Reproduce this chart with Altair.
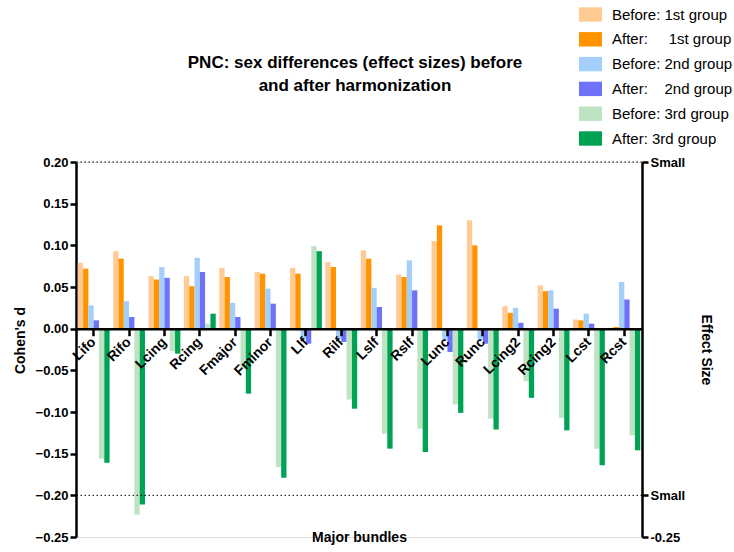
import altair as alt
import pandas as pd

bundles = ["Lifo", "Rifo", "Lcing", "Rcing", "Fmajor", "Fminor", "Llf", "Rilf",
           "Lslf", "Rslf", "Lunc", "Runc", "Lcing2", "Rcing2", "Lcst", "Rcst"]

series_names = ["Before: 1st group", "After:\u00a0\u00a0\u00a0\u00a0 1st group",
                "Before: 2nd group", "After:\u00a0\u00a0\u00a0 2nd group",
                "Before: 3rd group", "After: 3rd group"]
series_colors = ["#FFCA94", "#FF9400", "#A3CFFA", "#6E72F8", "#BEE3C3", "#00A353"]

before1 = [0.079, 0.093, 0.063, 0.063, 0.073, 0.068, 0.073, 0.080, 0.094, 0.065, 0.105, 0.130, 0.027, 0.052, 0.011, 0.001]
after1 = [0.072, 0.084, 0.059, 0.051, 0.062, 0.066, 0.066, 0.074, 0.084, 0.062, 0.124, 0.100, 0.019, 0.045, 0.010, 0.002]
before2 = [0.028, 0.033, 0.074, 0.085, 0.031, 0.048, -0.013, -0.012, 0.049, 0.082, -0.013, -0.013, 0.025, 0.046, 0.018, 0.056]
after2 = [0.010, 0.014, 0.061, 0.068, 0.014, 0.030, -0.018, -0.016, 0.026, 0.046, -0.028, -0.018, 0.007, 0.024, 0.006, 0.035]
before3 = [-0.156, -0.223, -0.027, 0.006, -0.048, -0.166, 0.099, -0.085, -0.126, -0.120, -0.091, -0.108, -0.063, -0.107, -0.144, -0.128]
after3 = [-0.161, -0.211, -0.030, 0.018, -0.078, -0.179, 0.093, -0.096, -0.144, -0.148, -0.101, -0.121, -0.083, -0.122, -0.164, -0.146]

y_ticks = [0.20, 0.15, 0.10, 0.05, 0.0, -0.05, -0.10, -0.15, -0.20, -0.25]
right_ticks = [0.20, -0.20, -0.25]
ref_lines = [0.20, -0.20]

rows = []
for name, vals in zip(series_names, [before1, after1, before2, after2, before3, after3]):
    for b, v in zip(bundles, vals):
        rows.append({"bundle": b, "series": name, "value": v})
df = pd.DataFrame(rows)
ref_df = pd.DataFrame({"y": ref_lines})

FONT = "Liberation Sans"
ydom = [-0.25, 0.20]

bars = alt.Chart(df).mark_bar().encode(
    x=alt.X("bundle:N", sort=bundles,
            scale=alt.Scale(paddingInner=0.1, paddingOuter=0.05),
            axis=alt.Axis(title="Major bundles", orient="bottom", offset=-208.3,
                          labelAngle=-45, labelAlign="right", labelBaseline="middle",
                          labelFontSize=14, labelFontWeight="bold",
                          labelColor="black", labelFont=FONT, labelPadding=4,
                          domainWidth=2.5, domainColor="black",
                          tickWidth=2.5, tickSize=7, tickColor="black",
                          titleFontSize=14, titleFontWeight="bold", titleFont=FONT,
                          titleColor="black", titleY=213, titleBaseline="alphabetic",
                          zindex=1, grid=False)),
    xOffset=alt.XOffset("series:N", sort=series_names),
    y=alt.Y("value:Q", scale=alt.Scale(domain=ydom, nice=False, zero=False),
            axis=alt.Axis(title="Cohen's d", orient="left", values=y_ticks, format=".2f",
                          labelFontSize=13, labelFontWeight="bold", labelColor="black",
                          labelFont=FONT, domainWidth=2.5, domainColor="black",
                          tickWidth=2.5, tickSize=6, tickColor="black",
                          titleFontSize=14, titleFontWeight="bold", titleFont=FONT,
                          titleColor="black", titlePadding=8, titleY=178, grid=False)),
    color=alt.Color("series:N", sort=series_names,
                    scale=alt.Scale(domain=series_names, range=series_colors),
                    legend=alt.Legend(orient="none", legendX=503, legendY=-159, title=None,
                                      symbolType="M-1,-0.626H1V0.626H-1Z", symbolSize=529,
                                      symbolStrokeWidth=0, labelFontSize=15, labelFont=FONT,
                                      labelColor="black", labelOffset=10, rowPadding=4.8,
                                      padding=0)),
)

rules = alt.Chart(ref_df).mark_rule(color="black", strokeWidth=1, strokeDash=[1.5, 2.5]).encode(
    y=alt.Y("y:Q", scale=alt.Scale(domain=ydom, nice=False, zero=False),
            axis=alt.Axis(title="Effect Size", orient="right", values=right_ticks,
                          labelExpr="datum.value < -0.22 ? '-0.25' : 'Small'",
                          labelFontSize=13, labelFontWeight="bold", labelColor="black",
                          labelFont=FONT, domainWidth=2.5, domainColor="black",
                          tickWidth=2.5, tickSize=6, tickColor="black",
                          titleFontSize=14, titleFontWeight="bold", titleFont=FONT,
                          titleColor="black", titlePadding=14, grid=False))
)

chart = alt.layer(bars, rules).resolve_scale(y="independent").properties(
    width=566, height=375,
    title=alt.TitleParams(
        text=["PNC: sex differences (effect sizes) before", "and after harmonization"],
        fontSize=17, fontWeight="bold", font=FONT, color="black",
        anchor="middle", offset=0, lineHeight=23, dx=-4, dy=92),
    autosize=alt.AutoSizeParams(type="none"),
    padding={"left": 76, "top": 162, "right": 92, "bottom": 15},
).configure_view(stroke=None).configure(background="white")

chart.save("out.html", embed_options={"renderer": "svg", "actions": False})
